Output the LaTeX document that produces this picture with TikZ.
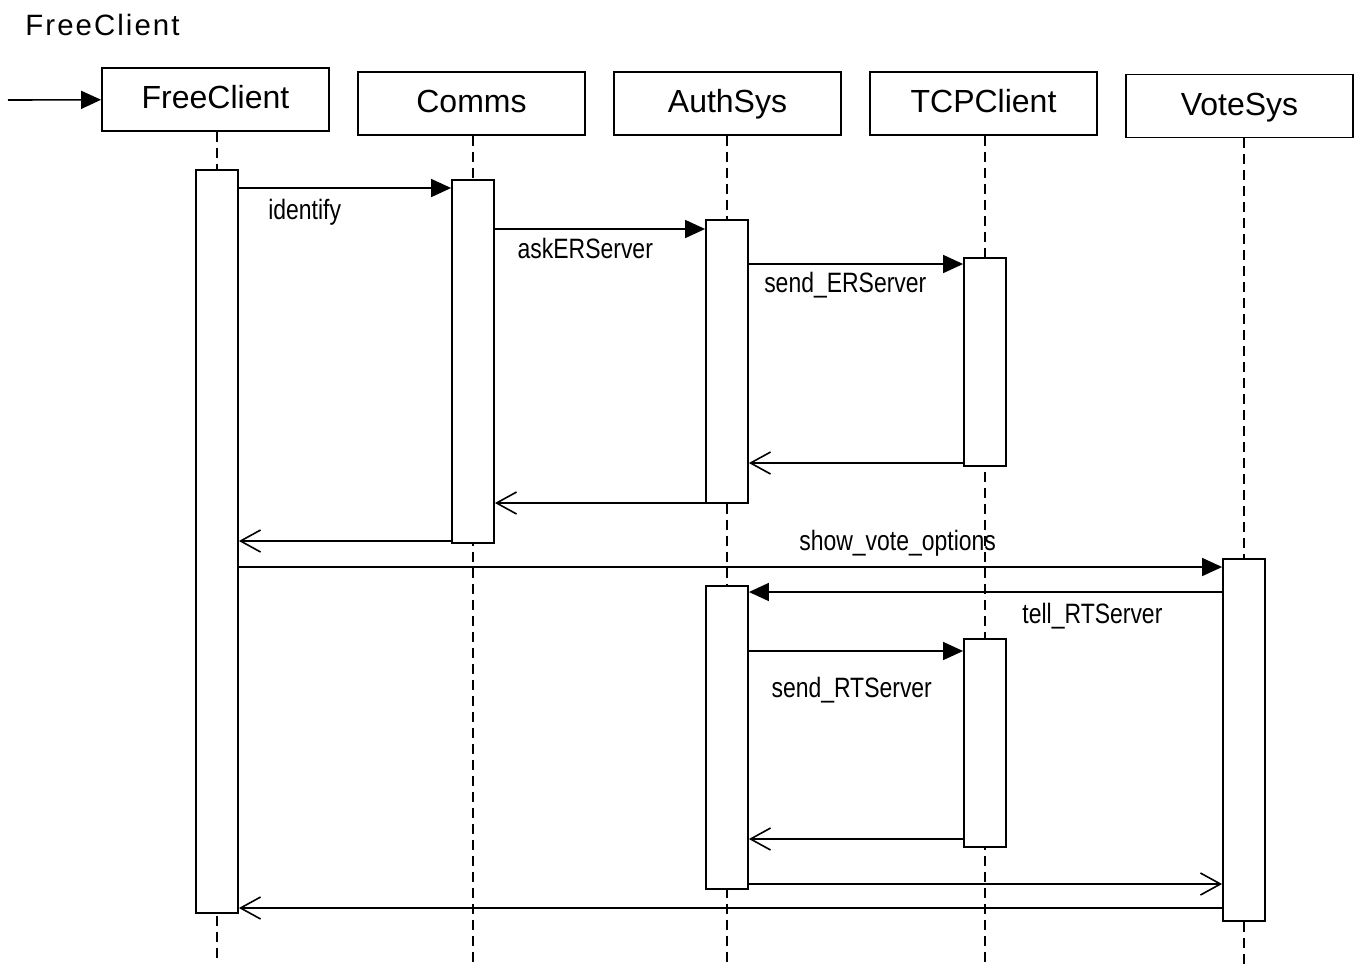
\documentclass[tikz,border=0pt]{standalone}
\usepackage{fontspec}
\setmainfont{Liberation Sans}
\newfontfamily\msgfont[FakeStretch=0.82]{Liberation Sans}
\newfontfamily\titlefont[LetterSpace=7]{Liberation Sans}
\usetikzlibrary{arrows.meta,fit,backgrounds}

\begin{document}
\begin{tikzpicture}[x=0.5pt,y=-0.5pt,
  obj/.style={draw, line width=0.9pt, minimum width=113.5pt, minimum height=31.5pt, text height=11.5pt, text depth=2.5pt, font=\fontsize{16}{18}\selectfont},
  act/.style={draw, fill=white, line width=0.9pt, inner sep=0pt},
  life/.style={dash pattern=on 5pt off 3pt, line width=0.7pt},
  call/.style={-{Triangle[length=10pt,width=9pt]}, line width=0.8pt},
  reply/.style={-{Straight Barb[length=10pt,width=11pt]}, line width=0.8pt},
  lbl/.style={font=\msgfont\fontsize{14}{16}\selectfont}]
\useasboundingbox (0,0) rectangle (1360,966);
\node[font=\titlefont\fontsize{14.7}{16}\selectfont, anchor=west, inner sep=0pt] (title) at (25,25) {FreeClient};

\node[obj] (fc) at (215.5,99.5) {FreeClient};
\node[obj] (cm) at (471.5,103.5) {Comms};
\node[obj] (au) at (727.5,103.5) {AuthSys};
\node[obj] (tc) at (983.5,103.5) {TCPClient};
\node[obj] (vs) at (1239.5,106) {VoteSys};
\coordinate (start) at (8,100);
\draw[call] (start) -- (fc);

\node[act, fit={(196,170) (238,913)}] (fcA) {};
\node[act, fit={(452,180) (494,543)}] (cmA) {};
\node[act, fit={(706,220) (748,503)}] (auA) {};
\node[act, fit={(964,258) (1006,466)}] (tcA) {};
\node[act, fit={(1223,559) (1265,921)}] (vsA) {};
\node[act, fit={(706,586) (748,889)}] (auB) {};
\node[act, fit={(964,639) (1006,847)}] (tcB) {};

\begin{scope}[on background layer]
\draw[life] (fcA.center |- fc.south) -- (fcA.center |- 0,958);
\draw[life] (cmA.center |- cm.south) -- (cmA.center |- 0,964);
\draw[life] (auA.center |- au.south) -- (auA.center |- 0,964);
\draw[life] (tcA.center |- tc.south) -- (tcA.center |- 0,964);
\draw[life] (vsA.center |- vs.south) -- (vsA.center |- 0,964);
\end{scope}

\draw[call] (fcA.east |- 0,188) -- (cmA.west |- 0,188) node[lbl, pos=.31, yshift=-12pt] {identify};
\draw[call] (cmA.east |- 0,229) -- (auA.west |- 0,229) node[lbl, pos=.43, yshift=-9.5pt] {askERServer};
\draw[call] (auA.east |- 0,264) -- (tcA.west |- 0,264) node[lbl, pos=.45, yshift=-10.5pt] {send\_ERServer};
\draw[reply] (tcA.west |- 0,463) -- (auA.east |- 0,463);
\draw[reply] (auA.west |- 0,503) -- (cmA.east |- 0,503);
\draw[reply] (cmA.west |- 0,541) -- (fcA.east |- 0,541);
\draw[call] (fcA.east |- 0,567) -- (vsA.west |- 0,567) node[lbl, pos=.67, yshift=12pt] {show\_vote\_options};
\draw[call] (vsA.west |- 0,592) -- (auB.east |- 0,592) node[lbl, pos=.274, yshift=-12pt] {tell\_RTServer};
\draw[call] (auB.east |- 0,651) -- (tcB.west |- 0,651) node[lbl, pos=.48, yshift=-19.5pt] {send\_RTServer};
\draw[reply] (tcB.west |- 0,839) -- (auB.east |- 0,839);
\draw[reply] (auB.east |- 0,884) -- (vsA.west |- 0,884);
\draw[reply] (vsA.west |- 0,908) -- (fcA.east |- 0,908);
\end{tikzpicture}
\end{document}
